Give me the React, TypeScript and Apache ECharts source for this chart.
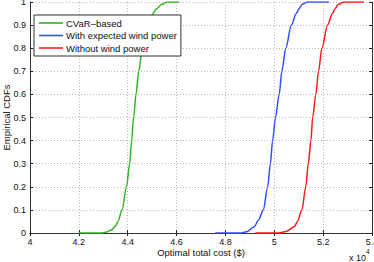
import React, { useEffect, useRef } from "react";
import * as echarts from "echarts";

// Optimal total cost ($) and empirical CDF values
const cvarCost = [42000, 42900, 43100, 43330, 43500, 43600, 43770, 43950, 44080, 44160, 44240, 44340, 44450, 44600, 44830, 45000, 45170, 45400, 45630, 46100];
const cvarCdf = [0, 0, 0.003, 0.013, 0.03, 0.05, 0.1, 0.2, 0.3, 0.4, 0.5, 0.6, 0.7, 0.8, 0.9, 0.945, 0.97, 0.99, 1, 1];

const expCost = [47580, 48650, 48900, 49180, 49350, 49550, 49730, 49840, 49930, 50050, 50200, 50310, 50470, 50700, 50900, 51000, 51150, 51360, 52240];
const expCdf = [0, 0, 0.007, 0.027, 0.055, 0.1, 0.2, 0.3, 0.4, 0.5, 0.6, 0.7, 0.8, 0.9, 0.95, 0.97, 0.99, 1, 1];

const noWindCost = [49220, 50200, 50480, 50820, 50950, 51130, 51290, 51390, 51500, 51570, 51700, 51810, 51950, 52180, 52380, 52480, 52620, 52860, 53670];
const noWindCdf = [0, 0, 0.007, 0.027, 0.05, 0.1, 0.2, 0.3, 0.4, 0.5, 0.6, 0.7, 0.8, 0.9, 0.95, 0.97, 0.99, 1, 1];

const seriesNames = ["CVaR\u2013based", "With expected wind power", "Without wind power"];
const seriesColors = ["#2fb523", "#3050ff", "#ff1a1a"];

const X_MIN = 40000;
const X_MAX = 54000;
const X_STEP = 2000;
const Y_MIN = 0;
const Y_MAX = 1;
const Y_STEP = 0.1;

const FONT = "'Liberation Sans', Arial, Helvetica, sans-serif";

function pairs(xs: number[], ys: number[]) {
  return xs.map((x, i) => [x, ys[i]]);
}

export default function App() {
  const ref = useRef<HTMLDivElement>(null);

  useEffect(() => {
    if (!ref.current) return;
    const chart = echarts.init(ref.current, undefined, { renderer: "svg" });
    const data = [pairs(cvarCost, cvarCdf), pairs(expCost, expCdf), pairs(noWindCost, noWindCdf)];

    const tickStyle = { show: true, inside: true, length: 3, lineStyle: { color: "#222", width: 1 } };
    const lineStyle = { show: true, lineStyle: { color: "#333", width: 1 } };

    chart.setOption({
      animation: false,
      backgroundColor: "#fff",
      textStyle: { fontFamily: FONT },
      grid: { left: 30, right: 2, top: 2, bottom: 29, containLabel: false, outerBoundsMode: "none" },
      legend: {
        orient: "vertical",
        left: 34,
        top: 15,
        padding: [2, 4, 2, 5],
        icon: "rect",
        itemWidth: 24,
        itemHeight: 1.6,
        itemGap: 0.5,
        backgroundColor: "#fff",
        borderColor: "#333",
        borderWidth: 1,
        borderRadius: 0,
        textStyle: { fontFamily: FONT, fontSize: 9.5, lineHeight: 12, color: "#111", padding: [0, 0, 0, -2] },
        data: seriesNames,
      },
      xAxis: [
        {
          type: "value",
          position: "bottom",
          min: X_MIN,
          max: X_MAX,
          interval: X_STEP,
          axisLine: lineStyle,
          axisTick: tickStyle,
          axisLabel: {
            fontFamily: FONT,
            fontSize: 9,
            color: "#111",
            margin: 4,
            formatter: (v: number) => String(+(v / 10000).toFixed(1)),
          },
          splitLine: { show: true, lineStyle: { color: "#b8b8b8", type: [1, 2], width: 1 } },
          name: "Optimal total cost ($)",
          nameLocation: "middle",
          nameGap: 14,
          nameMoveOverlap: false,
          nameTextStyle: { fontFamily: FONT, fontSize: 9.5, color: "#111" },
        },
        {
          type: "value",
          position: "top",
          min: X_MIN,
          max: X_MAX,
          interval: X_STEP,
          axisLine: lineStyle,
          axisTick: tickStyle,
          axisLabel: { show: false },
          splitLine: { show: false },
        },
      ],
      yAxis: [
        {
          type: "value",
          position: "left",
          min: Y_MIN,
          max: Y_MAX,
          interval: Y_STEP,
          axisLine: lineStyle,
          axisTick: tickStyle,
          axisLabel: {
            fontFamily: FONT,
            fontSize: 9,
            color: "#111",
            margin: 4,
            formatter: (v: number) => String(+v.toFixed(1)),
          },
          splitLine: { show: true, lineStyle: { color: "#b8b8b8", type: [1, 2], width: 1 } },
          name: "Empirical CDFs",
          nameLocation: "middle",
          nameGap: 19,
          nameRotate: 90,
          nameMoveOverlap: false,
          nameTextStyle: { fontFamily: FONT, fontSize: 9.5, color: "#111" },
        },
        {
          type: "value",
          position: "right",
          min: Y_MIN,
          max: Y_MAX,
          interval: Y_STEP,
          axisLine: lineStyle,
          axisTick: tickStyle,
          axisLabel: { show: false },
          splitLine: { show: false },
        },
      ],
      graphic: [
        {
          type: "text",
          left: 349,
          top: 253,
          style: { text: "x 10", fontFamily: FONT, fontSize: 9, fill: "#111" },
        },
        {
          type: "text",
          left: 366,
          top: 248,
          style: { text: "4", fontFamily: FONT, fontSize: 6.5, fill: "#111" },
        },
      ],
      series: data.map((d, i) => ({
        type: "line",
        name: seriesNames[i],
        data: d,
        xAxisIndex: 0,
        yAxisIndex: 0,
        symbol: "none",
        smooth: 0.3,
        smoothMonotone: "x",
        lineStyle: { color: seriesColors[i], width: 1.5 },
        itemStyle: { color: seriesColors[i] },
        z: 3,
      })),
    });

    return () => chart.dispose();
  }, []);

  return (
    <div
      ref={ref}
      style={{ position: "fixed", left: 0, top: 0, width: 374, height: 262 }}
    />
  );
}
